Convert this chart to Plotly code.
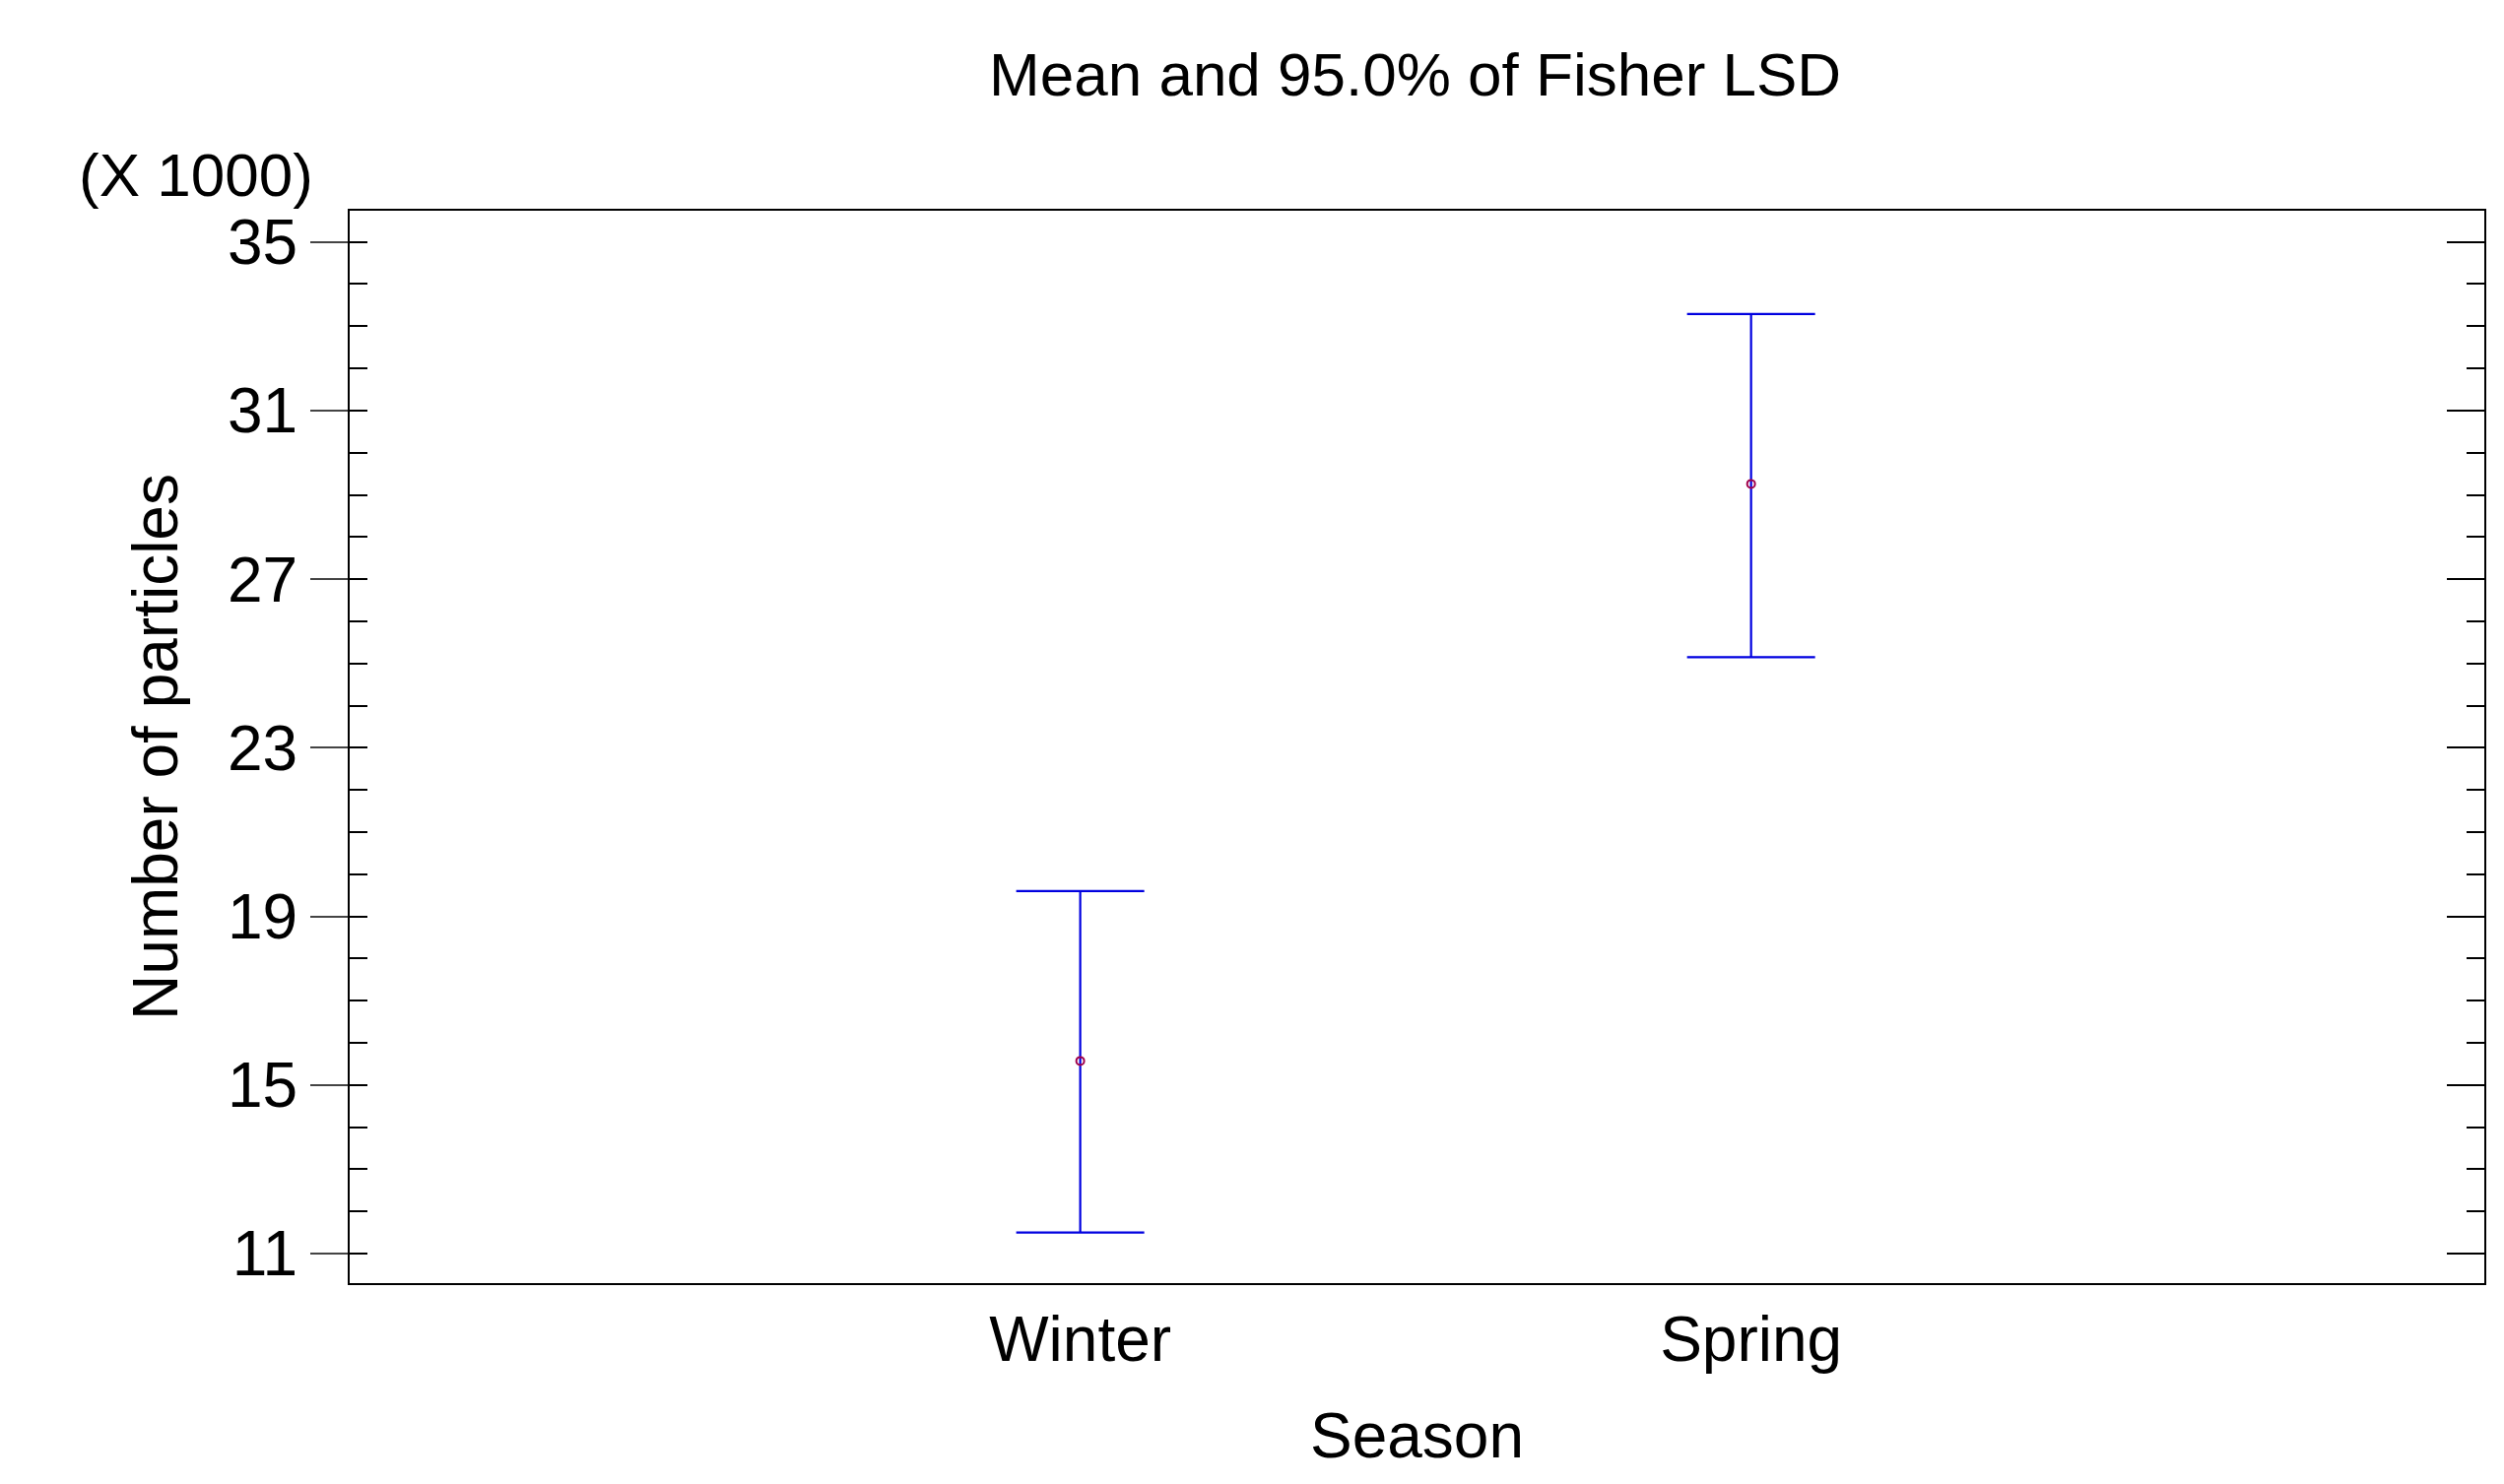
import plotly.graph_objects as go

seasons = ["Winter", "Spring"]
means = [15.57, 29.26]
upper = [19.6, 33.29]
lower = [11.5, 25.15]
yticks = [11, 15, 19, 23, 27, 31, 35]

xpos = list(range(len(seasons)))
fig = go.Figure()
fig.add_trace(go.Scatter(
    x=xpos, y=means, mode="markers",
    marker=dict(symbol="circle-open", size=8, color="#a0004a", line=dict(width=2)),
    error_y=dict(type="data", symmetric=False,
                 array=[u - m for u, m in zip(upper, means)],
                 arrayminus=[m - l for m, l in zip(means, lower)],
                 color="#0000e0", thickness=2.2, width=65),
    showlegend=False))
# invisible trace on right axis to host its ticks
fig.add_trace(go.Scatter(x=xpos, y=means, yaxis="y2", mode="markers",
                         marker=dict(opacity=0), showlegend=False, hoverinfo="skip"))

font = dict(family="Liberation Sans, Arial", color="black")
yr = [10.3, 35.74]
fig.update_layout(
    width=2542, height=1507, plot_bgcolor="white", paper_bgcolor="white",
    margin=dict(l=347, r=28, t=206, b=212),
    title=dict(text="Mean and 95.0% of Fisher LSD", x=0.562, y=0.97, xanchor="center",
               font=dict(size=62, **font)),
    font=dict(size=60, **font),
    yaxis2=dict(overlaying="y", side="right", range=yr, tickvals=yticks,
                showticklabels=False, ticks="inside", ticklen=38, tickwidth=2,
                tickcolor="black", showgrid=False, zeroline=False,
                minor=dict(dtick=1, tick0=11, ticks="inside", ticklen=18, tickwidth=1.5, tickcolor="black")),
)
fig.update_xaxes(range=[-1.089, 2.093], tickvals=xpos, ticktext=seasons,
                 showline=True, linecolor="black", linewidth=2, mirror=True,
                 showgrid=False, zeroline=False, ticks="",
                 title=dict(text="Season", font=dict(size=64, **font), standoff=40),
                 tickfont=dict(size=64, **font))
fig.update_yaxes(selector=dict(anchor="x"), range=yr, tickvals=yticks,
                 showline=True, linecolor="black", linewidth=2, mirror=True,
                 showgrid=False, zeroline=False, ticks="outside", ticklen=38, tickwidth=2,
                 minor=dict(dtick=1, tick0=11, ticks="inside", ticklen=18, tickwidth=1.5, tickcolor="black"),
                 title=dict(text="Number of particles", font=dict(size=64, **font), standoff=30),
                 tickfont=dict(size=64, **font))
fig.layout.yaxis.update(range=yr, tickvals=yticks, showline=True, linecolor="black", linewidth=2,
                        mirror=True, ticks="outside", ticklen=38, tickwidth=2, showgrid=False,
                        zeroline=False,
                        minor=dict(dtick=1, tick0=11, ticks="inside", ticklen=18, tickwidth=1.5, tickcolor="black"),
                        title=dict(text="Number of particles", font=dict(size=64, **font), standoff=30),
                        tickfont=dict(size=64, **font))
fig.add_annotation(text="(X 1000)", xref="paper", yref="paper", x=-0.016, y=1.0,
                   xanchor="right", yanchor="bottom", showarrow=False,
                   font=dict(size=62, **font))
fig.write_html("out.html")
